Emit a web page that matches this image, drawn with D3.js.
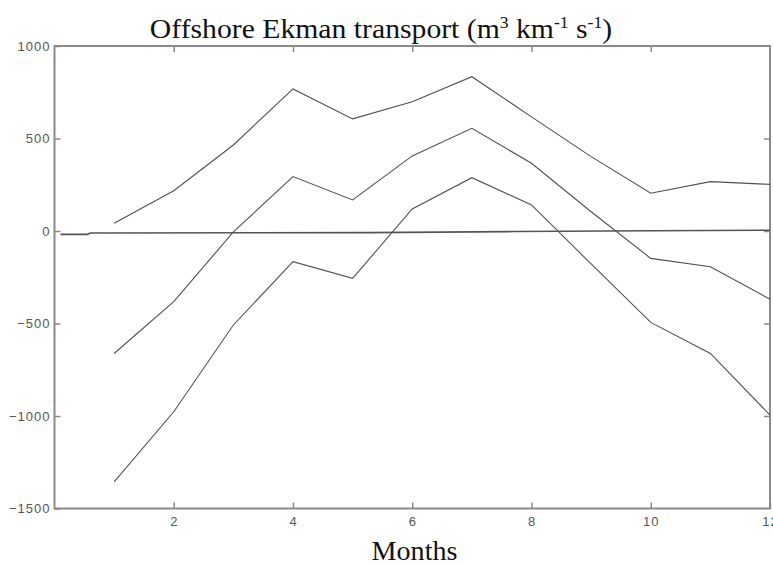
<!DOCTYPE html>
<html>
<head>
<meta charset="utf-8">
<script src="https://cdn.jsdelivr.net/npm/d3@7"></script>
<style>
  html, body { margin: 0; padding: 0; background: #fff; }
  svg { display: block; }
</style>
</head>
<body>
<svg id="chart" width="773" height="565"></svg>
<script>
// Monthly offshore Ekman transport: upper, central and lower curves
const months = [1, 2, 3, 4, 5, 6, 7, 8, 9, 10, 11, 12];
const upperValues  = [42, 218, 465, 768, 606, 699, 834, 617, 402, 204, 267, 252];
const middleValues = [-662, -382, -5, 294, 168, 406, 555, 366, 104, -148, -193, -369];
const lowerValues  = [-1356, -977, -508, -166, -256, 119, 288, 141, -178, -494, -662, -995];

// Near-zero reference trace
const refMonths = [0.1, 0.55, 0.6, 5.25, 7.7, 10, 12];
const refValues = [-18, -18, -11, -9, -3, 1, 4];

const xTicks = [2, 4, 6, 8, 10, 12];
const yTicks = [1000, 500, 0, -500, -1000, -1500];

const svg = d3.select("#chart");
const plotLeft = 54.5, plotRight = 770, plotTop = 46, plotBottom = 508.5;

const x = d3.scaleLinear().domain([0, 12]).range([plotLeft, plotRight]);
const y = d3.scaleLinear().domain([-1500, 1000]).range([plotBottom, plotTop]);

const axisColor = "#8a8a8a";
const labelColor = "#555";

// Frame
svg.append("rect")
  .attr("x", plotLeft).attr("y", plotTop)
  .attr("width", plotRight - plotLeft).attr("height", plotBottom - plotTop)
  .attr("fill", "none").attr("stroke", axisColor).attr("stroke-width", 2);

// Axes: ticks point inward on all four sides
const tickLen = 6;
const styleAxis = g => {
  g.select(".domain").remove();
  g.selectAll(".tick line").attr("stroke", axisColor).attr("stroke-width", 1.5);
  g.selectAll(".tick text")
    .attr("fill", labelColor)
    .style("font-family", "Liberation Sans, Arial, sans-serif")
    .style("font-size", "13px")
    .style("letter-spacing", "1px");
};

svg.append("g").attr("transform", `translate(0,${plotBottom})`)
  .call(d3.axisBottom(x).tickValues(xTicks).tickFormat(d3.format("d"))
        .tickSizeInner(-tickLen).tickSizeOuter(0).tickPadding(8))
  .call(styleAxis);

svg.append("g").attr("transform", `translate(0,${plotTop})`)
  .call(d3.axisTop(x).tickValues(xTicks.filter(d => d < 12)).tickFormat("")
        .tickSizeInner(-tickLen).tickSizeOuter(0))
  .call(styleAxis);

svg.append("g").attr("transform", `translate(${plotLeft},0)`)
  .call(d3.axisLeft(y).tickValues(yTicks).tickFormat(d3.format("d"))
        .tickSizeInner(-tickLen).tickSizeOuter(0).tickPadding(4))
  .call(styleAxis);

svg.append("g").attr("transform", `translate(${plotRight},0)`)
  .call(d3.axisRight(y).tickValues(yTicks.filter(d => d > -1500 && d < 1000)).tickFormat("")
        .tickSizeInner(-tickLen).tickSizeOuter(0))
  .call(styleAxis);

// Lines
const line = d3.line().x(d => x(d[0])).y(d => y(d[1]));

svg.append("path")
  .datum(refMonths.map((m, i) => [m, refValues[i]]))
  .attr("d", line).attr("fill", "none")
  .attr("stroke", "#555").attr("stroke-width", 1.6);

[upperValues, middleValues, lowerValues].forEach(vals => {
  svg.append("path")
    .datum(months.map((m, i) => [m, vals[i]]))
    .attr("d", line).attr("fill", "none")
    .attr("stroke", "#505050").attr("stroke-width", 1.1);
});

// Title with superscript units (slightly widened serif)
const title = svg.append("text")
  .attr("transform", "translate(381,38) scale(1.1,1)")
  .attr("text-anchor", "middle")
  .attr("fill", "#111")
  .style("font-family", "Liberation Serif, Times New Roman, serif")
  .style("font-size", "27px");
title.append("tspan").text("Offshore Ekman transport (m");
title.append("tspan").attr("dy", -10).style("font-size", "16px").text("3");
title.append("tspan").attr("dy", 10).text(" km");
title.append("tspan").attr("dy", -10).style("font-size", "16px").text("-1");
title.append("tspan").attr("dy", 10).text(" s");
title.append("tspan").attr("dy", -10).style("font-size", "16px").text("-1");
title.append("tspan").attr("dy", 10).text(")");

// X-axis title
svg.append("text")
  .attr("transform", "translate(414.5,560) scale(1.04,1)")
  .attr("text-anchor", "middle")
  .attr("fill", "#111")
  .style("font-family", "Liberation Serif, Times New Roman, serif")
  .style("font-size", "27px")
  .text("Months");
</script>
</body>
</html>
